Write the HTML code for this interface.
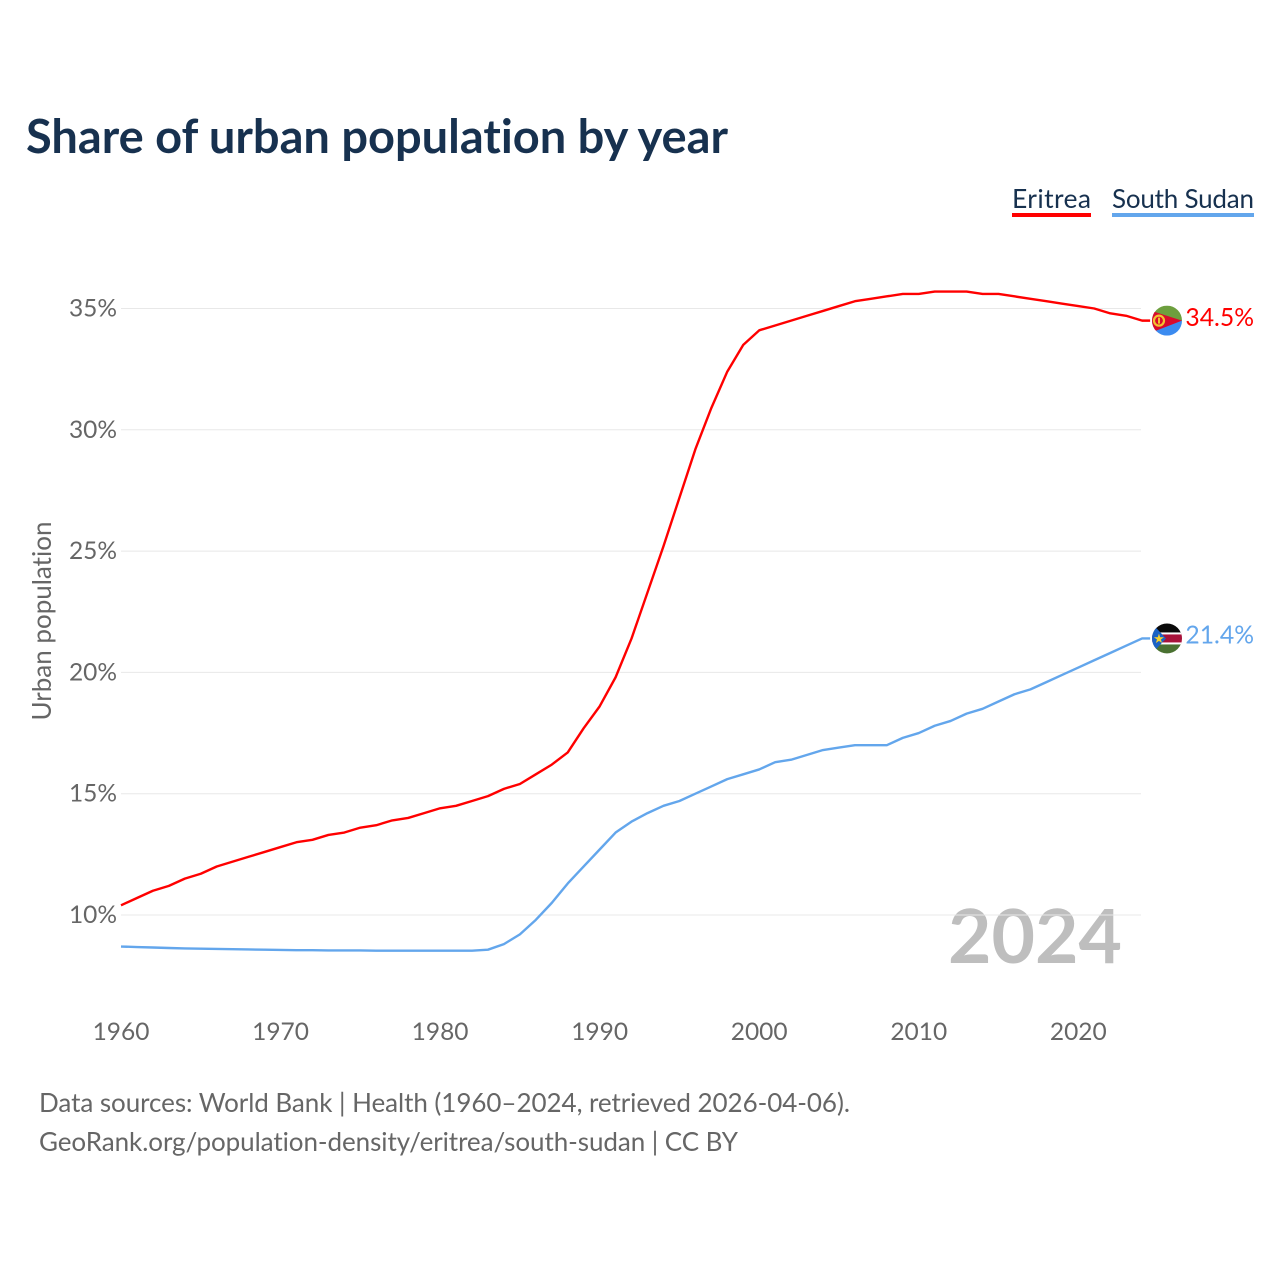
<!DOCTYPE html>
<html>
<head>
<meta charset="utf-8">
<title>Share of urban population by year</title>
<style>
html,body{margin:0;padding:0;background:#fff;}
body{width:1280px;height:1280px;overflow:hidden;}
svg{display:block;font-family:"Lato","Carlito","Liberation Sans",sans-serif;font-variant-ligatures:none;}
</style>
</head>
<body>
<svg id="chart" width="1280" height="1280" viewBox="0 0 1280 1280" xmlns="http://www.w3.org/2000/svg">
<defs>
<clipPath id="flag-clip-er"><circle cx="0" cy="0" r="15"/></clipPath>
<clipPath id="flag-clip-ss"><circle cx="0" cy="0" r="15"/></clipPath>
</defs>
<text x="26" y="153" font-size="47" font-weight="700" textLength="702" fill="#17314f">Share of urban population by year</text>
<g>
<text x="1012" y="208" font-size="26.5" textLength="79" fill="#17314f">Eritrea</text>
<rect x="1012" y="213" width="79" height="4" fill="#ff0000"/>
</g>
<g>
<text x="1112" y="208" font-size="26" textLength="142" fill="#17314f">South Sudan</text>
<rect x="1112" y="213" width="142" height="4" fill="#63a6ec"/>
</g>
<text x="1122" y="963" text-anchor="end" font-size="75" font-weight="700" fill="#bebebe">2024</text>
<g id="grid"></g>
<g id="yticks"></g>
<g id="xticks"></g>
<text transform="translate(51,621) rotate(-90)" text-anchor="middle" font-size="26" fill="#666666">Urban population</text>
<g id="series"></g>
<g id="flag-er" clip-path="url(#flag-clip-er)">
<rect x="-15" y="-15" width="30" height="15" fill="#6d9f3e"/>
<rect x="-15" y="0" width="30" height="15" fill="#3b8bf0"/>
<polygon points="-16,-10 15,0 -16,12" fill="#d90a2c"/>
<circle cx="-8" cy="0" r="5" fill="none" stroke="#f2c230" stroke-width="2.2"/>
<rect x="-9" y="-3" width="2" height="6" fill="#f2c230"/>
</g>
<g id="flag-ss" clip-path="url(#flag-clip-ss)">
<rect x="-15" y="-15" width="30" height="10" fill="#0a0a0a"/>
<rect x="-15" y="-5" width="30" height="10" fill="#a8123a"/>
<rect x="-15" y="5" width="30" height="10" fill="#4a7131"/>
<rect x="-15" y="-6" width="30" height="2" fill="#ffffff"/>
<rect x="-15" y="4" width="30" height="2" fill="#ffffff"/>
<polygon points="-15,-15 -1,0 -15,15" fill="#1b62c4"/>
<text x="-8" y="4.5" text-anchor="middle" font-size="13" fill="#f5d130">★</text>
</g>
<text id="label-er" x="1254" y="326" text-anchor="end" font-size="24.7" fill="#ff0000"></text>
<text id="label-ss" x="1254" y="644" text-anchor="end" font-size="24.7" fill="#63a6ec"></text>
<text x="39" y="1112" font-size="26" textLength="811" fill="#666666">Data sources: World Bank | Health (1960–2024, retrieved 2026-04-06).</text>
<text x="39" y="1151" font-size="26" textLength="699" fill="#666666">GeoRank.org/population-density/eritrea/south-sudan | CC BY</text>
</svg>
<script>
var startYear = 1960;
var eritrea = [10.4,10.7,11.0,11.2,11.5,11.7,12.0,12.2,12.4,12.6,12.8,13.0,13.1,13.3,13.4,13.6,13.7,13.9,14.0,14.2,14.4,14.5,14.7,14.9,15.2,15.4,15.8,16.2,16.7,17.7,18.6,19.8,21.4,23.3,25.2,27.2,29.2,30.9,32.4,33.5,34.1,34.3,34.5,34.7,34.9,35.1,35.3,35.4,35.5,35.6,35.6,35.7,35.7,35.7,35.6,35.6,35.5,35.4,35.3,35.2,35.1,35.0,34.8,34.7,34.5];
var southSudan = [8.7,8.68,8.66,8.64,8.62,8.61,8.6,8.59,8.58,8.57,8.56,8.55,8.55,8.54,8.54,8.54,8.53,8.53,8.53,8.53,8.53,8.53,8.53,8.57,8.8,9.2,9.8,10.5,11.3,12.0,12.7,13.4,13.85,14.2,14.5,14.7,15.0,15.3,15.6,15.8,16.0,16.3,16.4,16.6,16.8,16.9,17.0,17.0,17.0,17.3,17.5,17.8,18.0,18.3,18.5,18.8,19.1,19.3,19.6,19.9,20.2,20.5,20.8,21.1,21.4];
var yTicks = [10,15,20,25,30,35];
var xTicks = [1960,1970,1980,1990,2000,2010,2020];

var NS = 'http://www.w3.org/2000/svg';
function xScale(year){ return 121 + (year - 1960) * 15.955; }
function yScale(v){ return 915 - (v - 10) * 24.26; }
function make(tag, parent, attrs){
  var el = document.createElementNS(NS, tag);
  for (var k in attrs) el.setAttribute(k, attrs[k]);
  parent.appendChild(el);
  return el;
}
var grid = document.getElementById('grid');
var yG = document.getElementById('yticks');
var xG = document.getElementById('xticks');
yTicks.forEach(function(t){
  var line = make('line', grid, {x1:121, x2:1141, y1:yScale(t), y2:yScale(t), stroke:'#e8e8e8', 'stroke-width':1});
  
  
  var label = make('text', yG, {x:117, y:yScale(t)+8, 'text-anchor':'end', 'font-size':24.5, fill:'#666666'});
  
  
  label.textContent = t + '%';
});
xTicks.forEach(function(t){
  var label = make('text', xG, {x:xScale(t), y:1040, 'text-anchor':'middle', 'font-size':24.5, fill:'#666666'});
  
  
  label.textContent = t;
});
function pathFor(values){
  var d = values.map(function(v,i){
    return (i ? 'L' : 'M') + xScale(startYear + i).toFixed(2) + ' ' + yScale(v).toFixed(2);
  }).join('');
  return d + 'L' + (xScale(startYear + values.length - 1) + 8).toFixed(2) + ' ' + yScale(values[values.length-1]).toFixed(2);
}
var seriesG = document.getElementById('series');
var lineEr = make('path', seriesG, {d:pathFor(eritrea), fill:'none', stroke:'#ff0000', 'stroke-width':2.4, 'stroke-linejoin':'round'});


var lineSs = make('path', seriesG, {d:pathFor(southSudan), fill:'none', stroke:'#63a6ec', 'stroke-width':2.4, 'stroke-linejoin':'round'});



var erLast = eritrea[eritrea.length-1];
var ssLast = southSudan[southSudan.length-1];
document.getElementById('flag-er').setAttribute('transform', 'translate(1167,' + yScale(erLast).toFixed(2) + ')');
document.getElementById('flag-ss').setAttribute('transform', 'translate(1167,' + yScale(ssLast).toFixed(2) + ')');
var labelEr = document.getElementById('label-er');
labelEr.setAttribute('y', (yScale(erLast)+5.2).toFixed(2));
labelEr.textContent = erLast.toFixed(1) + '%';
var labelSs = document.getElementById('label-ss');
labelSs.setAttribute('y', (yScale(ssLast)+5.2).toFixed(2));
labelSs.textContent = ssLast.toFixed(1) + '%';
</script>
</body>
</html>
